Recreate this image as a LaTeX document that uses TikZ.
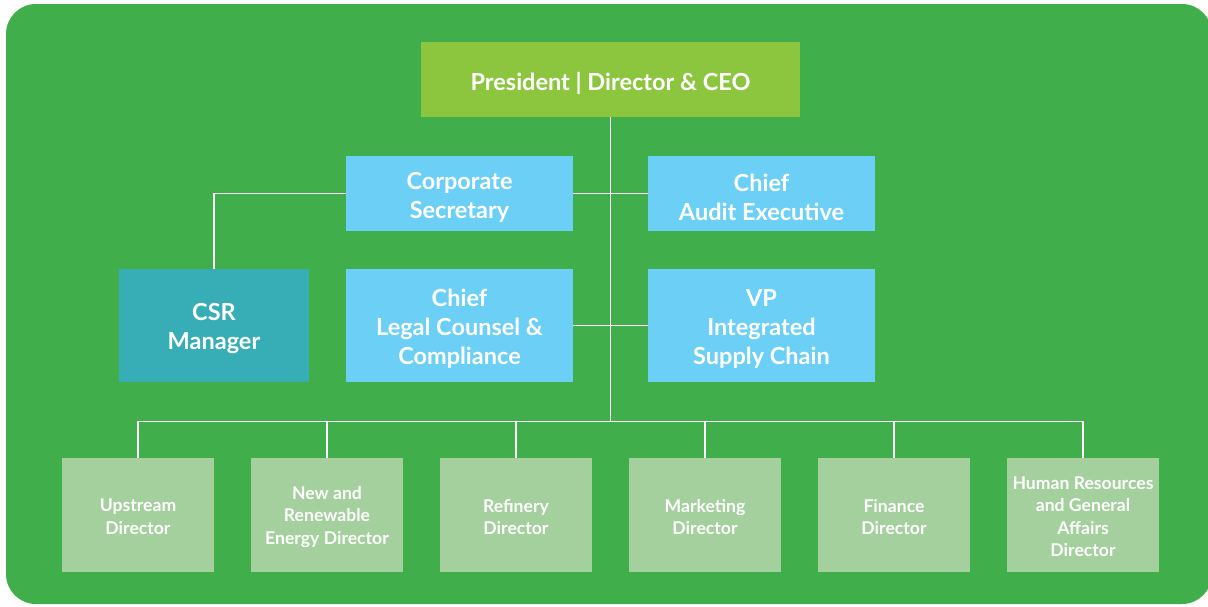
\documentclass[tikz,border=0pt]{standalone}
\usepackage{fontspec}
\setmainfont{Lato}
\definecolor{bggreen}{HTML}{40AE4A}
\definecolor{presgreen}{HTML}{8CC63F}
\definecolor{skyblue}{HTML}{6BCFF6}
\definecolor{tealbox}{HTML}{37ADB5}
\definecolor{palegreen}{HTML}{A3D09C}
\tikzset{
  box/.style={rectangle, inner sep=0pt},
  bigtxt/.style={align=center, text=white, inner sep=0pt, yshift=-3.5pt, font=\bfseries\fontsize{23.5}{29}\selectfont},
  smalltxt/.style={align=center, text=white, inner sep=0pt, yshift=-2pt, font=\bfseries\fontsize{17.6}{22.5}\selectfont},
  presbox/.style={box, fill=presgreen, minimum width=379pt, minimum height=75pt},
  midbox/.style={box, fill=skyblue, minimum width=227pt},
  csrbox/.style={box, fill=tealbox, minimum width=190pt, minimum height=113pt},
  dirbox/.style={box, fill=palegreen, minimum width=152pt, minimum height=113.5pt},
  link/.style={draw=white, line width=1.8pt}
}
\begin{document}
\begin{tikzpicture}[x=1pt,y=-1pt]
\useasboundingbox (0,0) rectangle (1208,606);
\begin{scope}
\clip (0,0) rectangle (1208,606);
\fill[bggreen, rounded corners=30pt] (6,4) rectangle (1212,604);
\end{scope}

\node[presbox, label={[bigtxt]center:President | Director \& CEO}] (pres) at (610.5,79.5) {};
\node[midbox, minimum height=75pt, label={[bigtxt]center:Corporate\\Secretary}] (corp) at (459.5,193.5) {};
\node[midbox, minimum height=75pt, label={[bigtxt]center:Chief\\Audit Executive}] (audit) at (761.5,193.5) {};
\node[csrbox, label={[bigtxt]center:CSR\\Manager}] (csr) at (214,325.5) {};
\node[midbox, minimum height=113pt, label={[bigtxt]center:Chief\\Legal Counsel \&\\Compliance}] (legal) at (459.5,325.5) {};
\node[midbox, minimum height=113pt, label={[bigtxt]center:VP\\Integrated\\Supply Chain}] (vp) at (761.5,325.5) {};

\node[dirbox, label={[smalltxt]center:Upstream\\Director}] (d1) at (138,514.8) {};
\node[dirbox, label={[smalltxt]center:New and\\Renewable\\Energy Director}] (d2) at (327,514.8) {};
\node[dirbox, label={[smalltxt]center:Refinery\\Director}] (d3) at (516,514.8) {};
\node[dirbox, label={[smalltxt]center:Marketing\\Director}] (d4) at (705,514.8) {};
\node[dirbox, label={[smalltxt]center:Finance\\Director}] (d5) at (894,514.8) {};
\node[dirbox, label={[smalltxt]center:Human Resources\\and General\\Affairs\\Director}] (d6) at (1083,514.8) {};

\coordinate (bus) at (610.5,421.5);
\draw[link] (pres.south) -- (bus);
\draw[link] (csr.north) |- (corp.west);
\draw[link] (corp.east) -- (audit.west);
\draw[link] (legal.east) -- (vp.west);
\draw[link] (d1.north) |- (bus) -| (d6.north);
\foreach \d in {d2,d3,d4,d5} \draw[link] (\d.north) -- (\d.north |- bus);
\end{tikzpicture}
\end{document}
